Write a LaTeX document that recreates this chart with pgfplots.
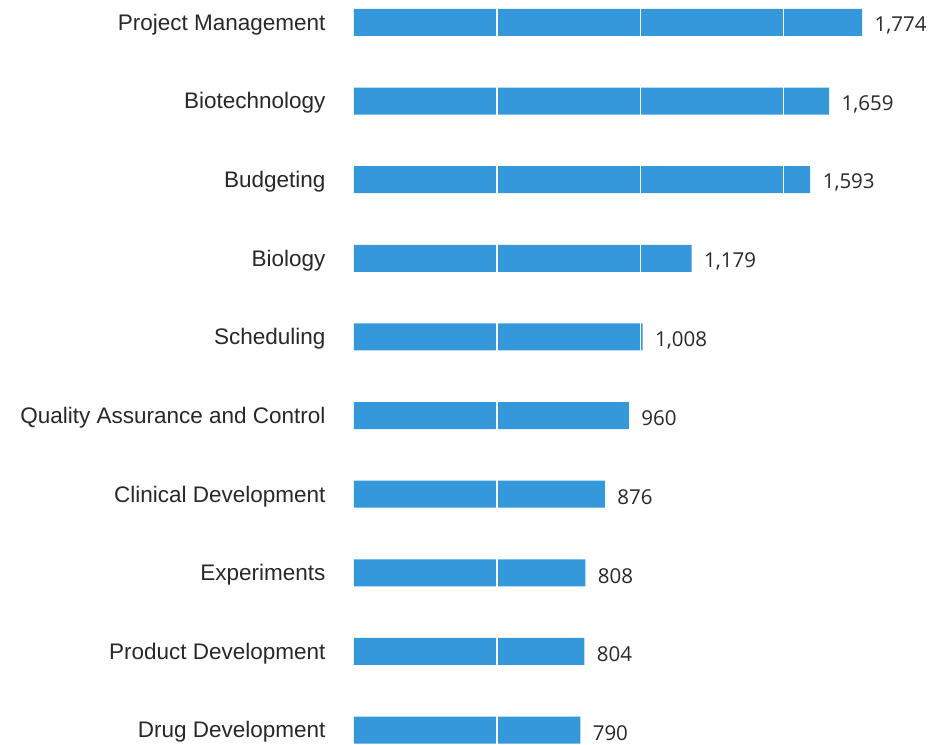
\documentclass[border=0pt]{standalone}
\usepackage{fontspec}
\setmainfont{Liberation Sans}
\newfontfamily\valfont{Open Sans}
\usepackage{pgfplots}
\pgfplotsset{compat=1.18}
\definecolor{barblue}{RGB}{52,152,219}
\definecolor{txt}{RGB}{40,40,40}
\begin{document}
\begin{tikzpicture}[x=1pt,y=1pt]
\path[use as bounding box] (0,0) rectangle (930,745);
\begin{axis}[
  at={(354pt,0pt)}, anchor=south west,
  scale only axis,
  width=546pt, height=745pt,
  xbar, bar width=27pt,
  xmin=0, xmax=1906.4,
  ymin=-0.286, ymax=9.19,
  y dir=reverse,
  ytick={0,...,9},
  yticklabels={Project Management,Biotechnology,Budgeting,Biology,Scheduling,Quality Assurance and Control,Clinical Development,Experiments,Product Development,Drug Development},
  yticklabel style={font=\fontsize{22.5}{26}\selectfont, text=txt, anchor=east, yshift=-2pt},
  major tick length=0pt,
  ytick style={draw=none},
  xtick={500,1000,1500},
  xticklabels={},
  xtick style={draw=none},
  xmajorgrids,
  major grid style={white, line width=1.6pt},
  axis on top,
  axis line style={draw=none},
  yticklabel shift=25pt,
  nodes near coords,
  nodes near coords style={font=\valfont\fontsize{20.5}{24}\selectfont, text=txt, anchor=west, xshift=9pt, yshift=-3pt,
    /pgf/number format/.cd, 1000 sep={,}, assume math mode=true},
]
\addplot[fill=barblue, draw=none] coordinates {
(1774,0) (1659,1) (1593,2) (1179,3) (1008,4) (960,5) (876,6) (808,7) (804,8) (790,9)};
\end{axis}
\end{tikzpicture}
\end{document}
